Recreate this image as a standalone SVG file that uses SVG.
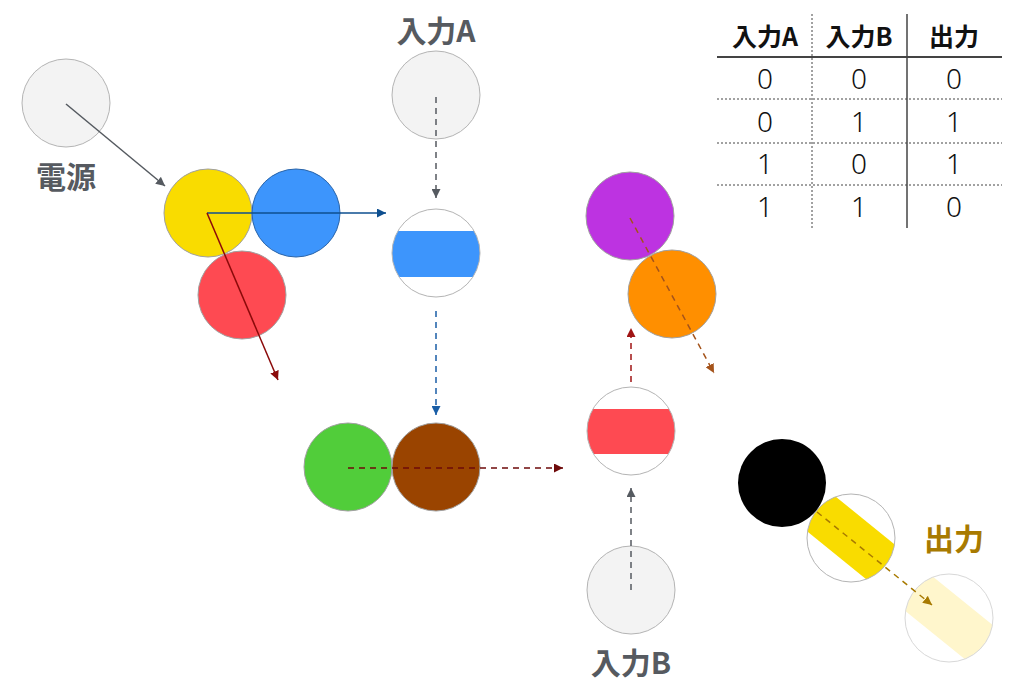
<svg xmlns="http://www.w3.org/2000/svg" width="1024" height="693" viewBox="0 0 1024 693">
<defs>
<style>
.lbl{font-family:"Noto Sans CJK JP","Noto Sans",sans-serif;font-weight:700;font-size:30px;fill:#565a60;text-anchor:middle}
.th{font-family:"Noto Sans CJK JP","Noto Sans",sans-serif;font-weight:700;font-size:25px;fill:#111;text-anchor:middle}
.td{font-family:"Noto Sans","Liberation Sans",sans-serif;font-weight:300;font-size:28px;fill:#111;text-anchor:middle}
.gc{fill:#f3f3f3;stroke:#b4b4b4;stroke-width:1}
.wc{fill:none;stroke:#b4b4b4;stroke-width:1}
.cc{stroke:#a0a0a0;stroke-width:1}
.ar{fill:none;stroke-width:1.5}
.dash{stroke-dasharray:6 5}
</style>
<marker id="mGray" viewBox="0 0 10 10" refX="10" refY="5" markerWidth="9" markerHeight="9" markerUnits="userSpaceOnUse" orient="auto"><path d="M0,0L10,5L0,10z" fill="#555a60"/></marker>
<marker id="mBlue" viewBox="0 0 10 10" refX="10" refY="5" markerWidth="9" markerHeight="9" markerUnits="userSpaceOnUse" orient="auto"><path d="M0,0L10,5L0,10z" fill="#0e4f8f"/></marker>
<marker id="mBlue2" viewBox="0 0 10 10" refX="10" refY="5" markerWidth="9" markerHeight="9" markerUnits="userSpaceOnUse" orient="auto"><path d="M0,0L10,5L0,10z" fill="#1a5ea6"/></marker>
<marker id="mRed" viewBox="0 0 10 10" refX="10" refY="5" markerWidth="9" markerHeight="9" markerUnits="userSpaceOnUse" orient="auto"><path d="M0,0L10,5L0,10z" fill="#8b0a0a"/></marker>
<marker id="mDRed" viewBox="0 0 10 10" refX="10" refY="5" markerWidth="9" markerHeight="9" markerUnits="userSpaceOnUse" orient="auto"><path d="M0,0L10,5L0,10z" fill="#6e0a0a"/></marker>
<marker id="mRed2" viewBox="0 0 10 10" refX="10" refY="5" markerWidth="9" markerHeight="9" markerUnits="userSpaceOnUse" orient="auto"><path d="M0,0L10,5L0,10z" fill="#a01515"/></marker>
<marker id="mBrown" viewBox="0 0 10 10" refX="10" refY="5" markerWidth="9" markerHeight="9" markerUnits="userSpaceOnUse" orient="auto"><path d="M0,0L10,5L0,10z" fill="#a4531a"/></marker>
<marker id="mGold" viewBox="0 0 10 10" refX="10" refY="5" markerWidth="9" markerHeight="9" markerUnits="userSpaceOnUse" orient="auto"><path d="M0,0L10,5L0,10z" fill="#a87a00"/></marker>
<clipPath id="cpA"><circle cx="436" cy="253" r="44"/></clipPath>
<clipPath id="cpB"><circle cx="631" cy="431" r="44"/></clipPath>
<clipPath id="cpO"><circle cx="851" cy="538" r="44"/></clipPath>
<clipPath id="cpP"><circle cx="949" cy="618" r="44"/></clipPath>
</defs>
<rect width="1024" height="693" fill="#fff"/>

<g id="power">
<circle class="gc" cx="66" cy="103" r="44"/>
<text class="lbl" x="66" y="188">電源</text>
</g>
<g id="inputA">
<text class="lbl" x="436" y="42">入力A</text>
<circle class="gc" cx="436" cy="95" r="44"/>
</g>
<g id="yellow"><circle class="cc" cx="208" cy="213" r="44" fill="#f9dc00"/></g>
<g id="blue"><circle cx="296" cy="213" r="44" fill="#3d95fc" stroke="#2a64a8" stroke-width="1"/></g>
<g id="red"><circle class="cc" cx="242" cy="295" r="44" fill="#fe4a52"/></g>
<g id="switchA">
<circle cx="436" cy="253" r="44" fill="#fff"/>
<rect x="390" y="231" width="92" height="46" fill="#3d95fc" clip-path="url(#cpA)"/>
<circle class="wc" cx="436" cy="253" r="44"/>
</g>
<g id="green"><circle class="cc" cx="348" cy="467" r="44" fill="#51cd3a"/></g>
<g id="brown"><circle class="cc" cx="436" cy="467" r="44" fill="#9a4400"/></g>
<g id="purple"><circle class="cc" cx="630" cy="216" r="44" fill="#bd33e1"/></g>
<g id="orange"><circle class="cc" cx="672" cy="294" r="44" fill="#ff8f00"/></g>
<g id="switchB">
<circle cx="631" cy="431" r="44" fill="#fff"/>
<rect x="585" y="409" width="92" height="45" fill="#fe4a52" clip-path="url(#cpB)"/>
<circle class="wc" cx="631" cy="431" r="44"/>
</g>
<g id="inputB">
<circle class="gc" cx="631" cy="590" r="44"/>
<text class="lbl" x="631" y="674">入力B</text>
</g>
<g id="outSwitch">
<circle cx="851" cy="538" r="44" fill="#fff"/>
<g clip-path="url(#cpO)"><rect x="791" y="515.5" width="120" height="45" fill="#f9dc00" transform="rotate(39 851 538)"/></g>
<circle class="wc" cx="851" cy="538" r="44"/>
</g>
<g id="black"><circle cx="782" cy="483" r="44" fill="#000"/></g>
<g id="output">
<circle cx="949" cy="618" r="44" fill="#fff"/>
<g clip-path="url(#cpP)"><rect x="889" y="596" width="120" height="44" fill="#fff6cc" transform="rotate(39 949 618)"/></g>
<circle cx="949" cy="618" r="44" fill="none" stroke="#d8d8d8" stroke-width="1"/>
<text class="lbl" x="954" y="550" style="fill:#a87a00">出力</text>
</g>

<g id="connectors">
<line class="ar" x1="66" y1="104" x2="165" y2="186" stroke="#555a60" marker-end="url(#mGray)"/>
<line class="ar" x1="207" y1="213" x2="386" y2="213" stroke="#0e4f8f" marker-end="url(#mBlue)"/>
<line class="ar" x1="207" y1="213" x2="278" y2="380" stroke="#8b0a0a" marker-end="url(#mRed)"/>
<line class="ar dash" x1="436" y1="97" x2="436" y2="198" stroke="#555a60" marker-end="url(#mGray)"/>
<line class="ar dash" x1="436" y1="311" x2="436" y2="415" stroke="#1a5ea6" marker-end="url(#mBlue2)"/>
<line class="ar dash" x1="348" y1="468" x2="563" y2="468" stroke="#6e0a0a" marker-end="url(#mDRed)"/>
<line class="ar dash" x1="630" y1="218" x2="714" y2="373" stroke="#a4531a" marker-end="url(#mBrown)"/>
<line class="ar dash" x1="631" y1="382" x2="631" y2="328" stroke="#a01515" marker-end="url(#mRed2)"/>
<line class="ar dash" x1="631" y1="590" x2="631" y2="488" stroke="#555a60" marker-end="url(#mGray)"/>
<line class="ar dash" x1="817" y1="512" x2="932" y2="605" stroke="#a87a00" marker-end="url(#mGold)"/>
</g>

<g id="table">
<text class="th" x="765" y="46">入力A</text>
<text class="th" x="859" y="46">入力B</text>
<text class="th" x="954" y="46">出力</text>
<line x1="717" y1="57" x2="1002" y2="57" stroke="#444" stroke-width="2"/>
<line x1="717" y1="99" x2="1002" y2="99" stroke="#444" stroke-width="1" stroke-dasharray="2 2"/>
<line x1="717" y1="143" x2="1002" y2="143" stroke="#444" stroke-width="1" stroke-dasharray="2 2"/>
<line x1="717" y1="185" x2="1002" y2="185" stroke="#444" stroke-width="1" stroke-dasharray="2 2"/>
<line x1="812" y1="14" x2="812" y2="228" stroke="#444" stroke-width="1" stroke-dasharray="2 2"/>
<line x1="907" y1="14" x2="907" y2="228" stroke="#444" stroke-width="1.5"/>
<text class="td" x="765" y="89">0</text><text class="td" x="859" y="89">0</text><text class="td" x="954" y="89">0</text>
<text class="td" x="765" y="132">0</text><text class="td" x="859" y="132">1</text><text class="td" x="954" y="132">1</text>
<text class="td" x="765" y="174">1</text><text class="td" x="859" y="174">0</text><text class="td" x="954" y="174">1</text>
<text class="td" x="765" y="217">1</text><text class="td" x="859" y="217">1</text><text class="td" x="954" y="217">0</text>
</g>
</svg>
